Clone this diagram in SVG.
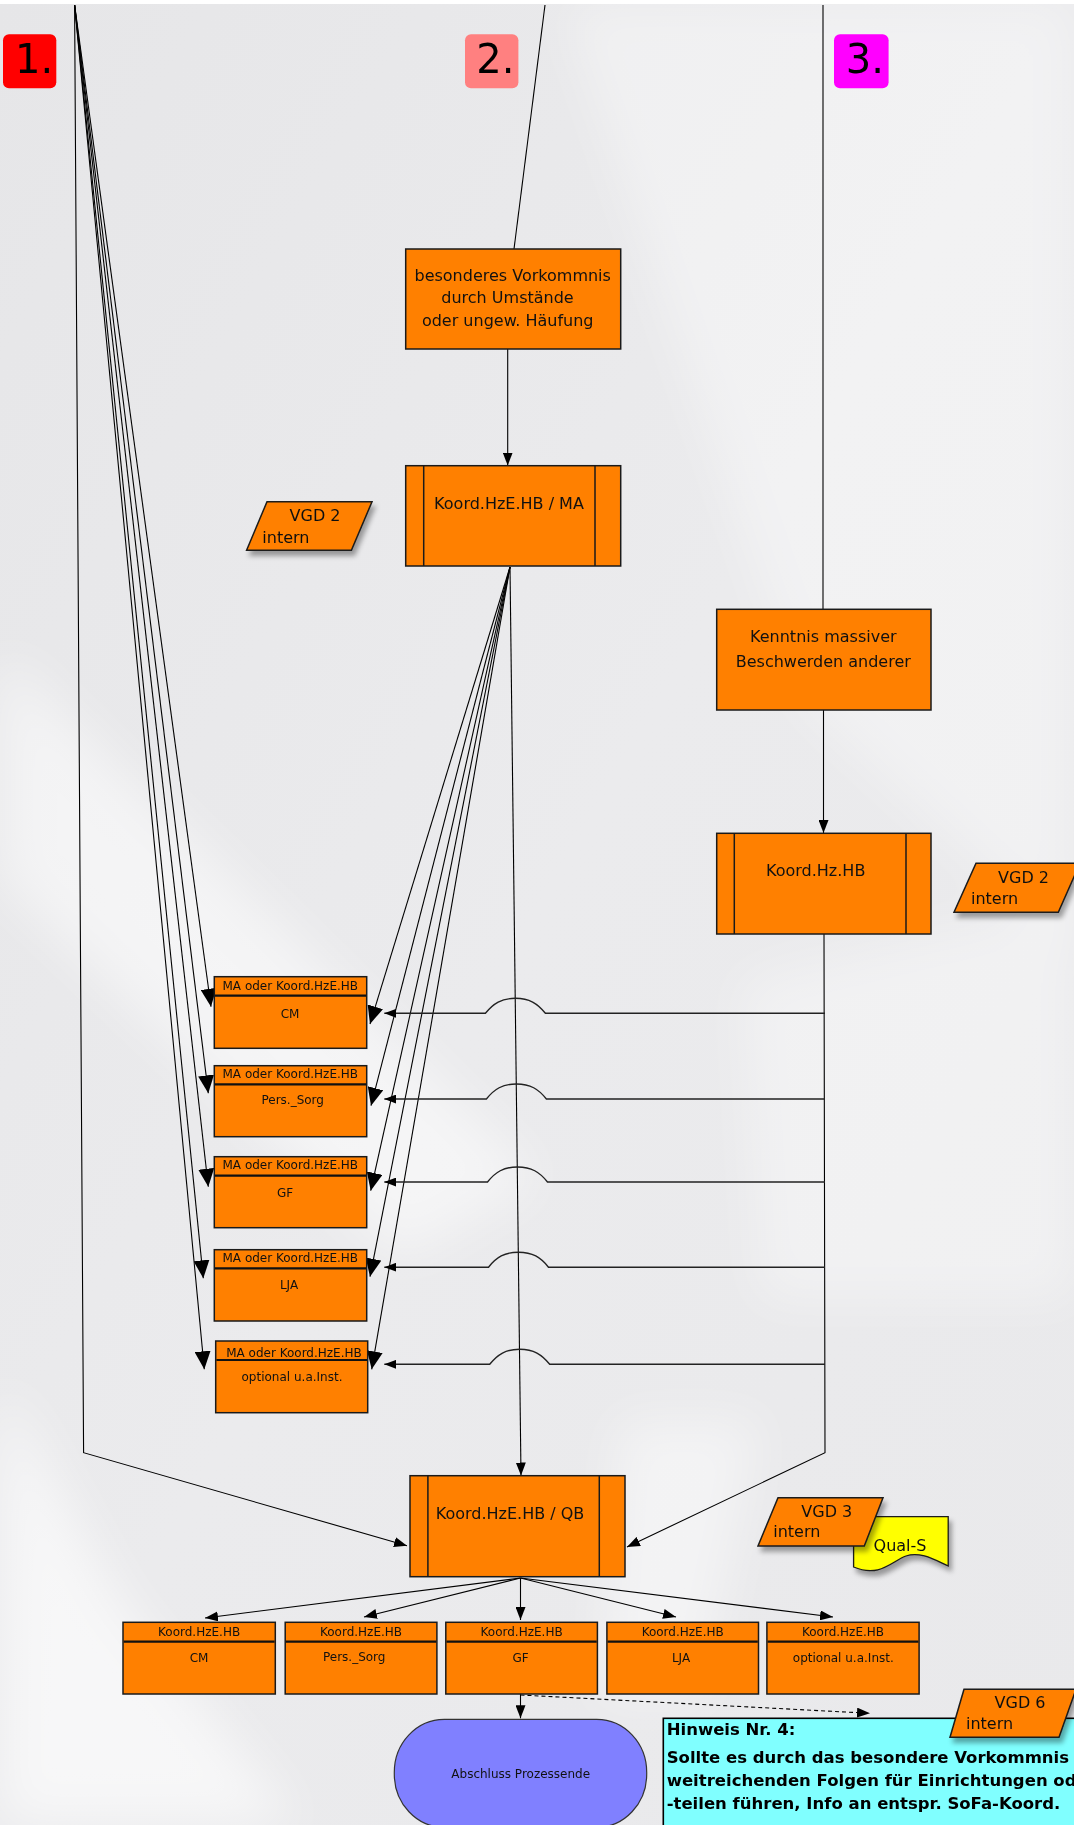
<svg xmlns="http://www.w3.org/2000/svg" width="1074" height="1825" viewBox="0 0 1074 1825">
<style>
.box{fill:#ff8000;stroke:#1a1a1a;stroke-width:1.5}
.inner{stroke:#1a1a1a;stroke-width:1.5;fill:none}
.hdr{stroke:#111;stroke-width:2.2;fill:none}
.t16{font-family:"DejaVu Sans",Verdana,sans-serif;font-size:16px;fill:#111}
.t12{font-family:"DejaVu Sans",Verdana,sans-serif;font-size:12px;fill:#111}
.num{font-family:"DejaVu Sans",Verdana,sans-serif;font-size:40px;fill:#000;text-anchor:middle}
.mid{text-anchor:middle}
.hint{font-family:"DejaVu Sans",Verdana,sans-serif;font-size:16.5px;font-weight:bold;fill:#000}
.ln{stroke:#000;stroke-width:1.1;fill:none}
.hl{stroke:#222;stroke-width:1.4;fill:none}
.vgd{fill:#ff8000;stroke:#1a1a1a;stroke-width:1.5}
</style>
<defs>
<linearGradient id="bg" x1="0" y1="0" x2="1" y2="1">
<stop offset="0" stop-color="#e6e6e8"/>
<stop offset="0.5" stop-color="#ebebed"/>
<stop offset="1" stop-color="#e9e9eb"/>
</linearGradient>
<filter id="blur" x="-20%" y="-20%" width="140%" height="140%"><feGaussianBlur stdDeviation="25"/></filter>
<filter id="sh" x="-20%" y="-20%" width="150%" height="160%"><feDropShadow dx="3" dy="5" stdDeviation="2.5" flood-color="#000" flood-opacity="0.35"/></filter>
<marker id="big" viewBox="0 0 18 16" refX="18" refY="8" markerWidth="18" markerHeight="16" markerUnits="userSpaceOnUse" orient="auto"><path d="M0,0 L18,8 L0,16 Z" fill="#000"/></marker>
<marker id="med" viewBox="0 0 13 10" refX="13" refY="5" markerWidth="13" markerHeight="10" markerUnits="userSpaceOnUse" orient="auto"><path d="M0,0 L13,5 L0,10 Z" fill="#000"/></marker>
<marker id="sm" viewBox="0 0 12 9" refX="12" refY="4.5" markerWidth="12" markerHeight="9" markerUnits="userSpaceOnUse" orient="auto"><path d="M0,0 L12,4.5 L0,9 Z" fill="#000"/></marker>
</defs>

<g id="background">
<rect width="1074" height="1825" fill="url(#bg)"/>
<g filter="url(#blur)" fill="#ffffff">
<polygon points="560,0 1074,0 1074,950 800,700" opacity="0.35"/>
<polygon points="0,650 0,880 400,1260 540,1180" opacity="0.5"/>
<polygon points="0,1380 0,1825 300,1825 120,1600" opacity="0.6"/>
<polygon points="620,1420 760,1420 700,1700 600,1700" opacity="0.45"/>
<polygon points="740,980 1074,900 1074,1300 760,1300" opacity="0.35"/>
</g>
<rect width="1074" height="4" fill="#ffffff"/>
</g>

<g id="num1"><rect x="3" y="34.3" width="53.3" height="54" rx="6" fill="#ff0000"/><text class="num" x="34.2" y="73.3">1.</text></g>
<g id="num2"><rect x="465" y="34.3" width="53.4" height="54" rx="6" fill="#ff8080"/><text class="num" x="495.4" y="73.3">2.</text></g>
<g id="num3"><rect x="834" y="34.3" width="54.6" height="54" rx="6" fill="#ff00ff"/><text class="num" x="864.8" y="73.3">3.</text></g>

<g id="connectors">
<path class="ln" d="M74.6,5 L211,1006.7" marker-end="url(#big)"/>
<path class="ln" d="M74.6,5 L208.3,1093.3" marker-end="url(#big)"/>
<path class="ln" d="M74.6,5 L208.3,1186.7" marker-end="url(#big)"/>
<path class="ln" d="M74.6,5 L203.3,1278.3" marker-end="url(#big)"/>
<path class="ln" d="M74.6,5 L204.3,1369.3" marker-end="url(#big)"/>
<path class="ln" d="M74.6,5 L83.6,1452.7 L407,1545.7" marker-end="url(#med)"/>
<path class="ln" d="M545,5 L514,249"/>
<path class="ln" d="M507.7,349 L507.7,465.5" marker-end="url(#med)"/>
<path class="ln" d="M510,567 L370,1024" marker-end="url(#big)"/>
<path class="ln" d="M510,567 L371,1105.7" marker-end="url(#big)"/>
<path class="ln" d="M510,567 L370.7,1190.7" marker-end="url(#big)"/>
<path class="ln" d="M510,567 L370,1276.7" marker-end="url(#big)"/>
<path class="ln" d="M510,567 L371.7,1369.3" marker-end="url(#big)"/>
<path class="ln" d="M510,567 L521,1475.5" marker-end="url(#med)"/>
<path class="ln" d="M823,5 L823,609.3"/>
<path class="ln" d="M823.5,710 L823.5,833" marker-end="url(#med)"/>
<path class="ln" d="M824,934 L825,1452.7 L627,1547" marker-end="url(#med)"/>
<path class="hl" d="M825,1013.3 H545.4 C537.4,1003.3 529.4,998.3 515.4,998.3 C501.4,998.3 493.4,1003.3 485.4,1013.3 H384.3" marker-end="url(#sm)"/>
<path class="hl" d="M825,1099 H546.4 C538.4,1089 530.4,1084 516.4,1084 C502.4,1084 494.4,1089 486.4,1099 H384.3" marker-end="url(#sm)"/>
<path class="hl" d="M825,1182 H547.5 C539.5,1172 531.5,1167 517.5,1167 C503.5,1167 495.5,1172 487.5,1182 H384.3" marker-end="url(#sm)"/>
<path class="hl" d="M825,1267.2 H548.5 C540.5,1257.2 532.5,1252.2 518.5,1252.2 C504.5,1252.2 496.5,1257.2 488.5,1267.2 H384.3" marker-end="url(#sm)"/>
<path class="hl" d="M825,1364.3 H549.7 C541.7,1354.3 533.7,1349.3 519.7,1349.3 C505.7,1349.3 497.7,1354.3 489.7,1364.3 H384.3" marker-end="url(#sm)"/>
<path class="ln" d="M520.5,1578 L205,1618" marker-end="url(#med)"/>
<path class="ln" d="M520.5,1578 L364,1617" marker-end="url(#med)"/>
<path class="ln" d="M520.5,1578 L520.5,1620" marker-end="url(#med)"/>
<path class="ln" d="M520.5,1578 L676,1617" marker-end="url(#med)"/>
<path class="ln" d="M520.5,1578 L833,1617" marker-end="url(#med)"/>
<path class="ln" d="M520.5,1694 L520.5,1718.3" marker-end="url(#med)"/>
<path class="ln" d="M520.5,1695 L870,1713.3" stroke-dasharray="4 3" marker-end="url(#med)"/>
</g>

<g id="besonderes">
<rect class="box" x="405.7" y="249" width="215" height="100"/>
<text class="t16 mid" x="512.7" y="280.6">besonderes Vorkommnis</text>
<text class="t16 mid" x="507.5" y="303">durch Umstände</text>
<text class="t16 mid" x="507.7" y="326.3">oder ungew. Häufung</text>
</g>

<g id="koordMA">
<rect class="box" x="405.7" y="465.7" width="215" height="100.3"/>
<line class="inner" x1="423.7" y1="465.7" x2="423.7" y2="566"/>
<line class="inner" x1="595" y1="465.7" x2="595" y2="566"/>
<text class="t16 mid" x="509" y="509">Koord.HzE.HB / MA</text>
</g>

<g id="vgd2left" filter="url(#sh)">
<polygon class="vgd" points="267,501.8 372,501.8 351.4,550.2 246.6,550.2"/>
<text class="t16 mid" x="315" y="521.4">VGD 2</text>
<text class="t16" x="262.3" y="542.6">intern</text>
</g>

<g id="kenntnis">
<rect class="box" x="716.7" y="609.3" width="214.3" height="100.7"/>
<text class="t16 mid" x="823.3" y="641.6">Kenntnis massiver</text>
<text class="t16 mid" x="823.3" y="666.6">Beschwerden anderer</text>
</g>

<g id="koordHz">
<rect class="box" x="716.7" y="833.3" width="214.3" height="100.7"/>
<line class="inner" x1="734.3" y1="833.3" x2="734.3" y2="934"/>
<line class="inner" x1="906" y1="833.3" x2="906" y2="934"/>
<text class="t16 mid" x="815.7" y="876.3">Koord.Hz.HB</text>
</g>

<g id="vgd2right" filter="url(#sh)">
<polygon class="vgd" points="976,863.3 1080,863.3 1058.3,912.3 954,912.3"/>
<text class="t16 mid" x="1023.5" y="883.3">VGD 2</text>
<text class="t16" x="971" y="904">intern</text>
</g>

<g id="ma1">
<rect class="box" x="214.3" y="976.7" width="152.4" height="71.6"/>
<line class="hdr" x1="215" y1="995.7" x2="366" y2="995.7"/>
<text class="t12 mid" x="290.3" y="990.2">MA oder Koord.HzE.HB</text>
<text class="t12 mid" x="290" y="1017.5">CM</text>
</g>
<g id="ma2">
<rect class="box" x="214.3" y="1065.7" width="152.4" height="71"/>
<line class="hdr" x1="215" y1="1084.3" x2="366" y2="1084.3"/>
<text class="t12 mid" x="290.3" y="1077.5">MA oder Koord.HzE.HB</text>
<text class="t12 mid" x="292.7" y="1104.2">Pers._Sorg</text>
</g>
<g id="ma3">
<rect class="box" x="214.3" y="1156.7" width="152.4" height="71"/>
<line class="hdr" x1="215" y1="1175.7" x2="366" y2="1175.7"/>
<text class="t12 mid" x="290.3" y="1168.5">MA oder Koord.HzE.HB</text>
<text class="t12 mid" x="285" y="1196.5">GF</text>
</g>
<g id="ma4">
<rect class="box" x="214.3" y="1249.7" width="152.4" height="71.3"/>
<line class="hdr" x1="215" y1="1268.3" x2="366" y2="1268.3"/>
<text class="t12 mid" x="290.3" y="1261.5">MA oder Koord.HzE.HB</text>
<text class="t12 mid" x="289" y="1288.9">LJA</text>
</g>
<g id="ma5">
<rect class="box" x="215.7" y="1341" width="152" height="71.7"/>
<line class="hdr" x1="216.4" y1="1360" x2="367" y2="1360"/>
<text class="t12 mid" x="294" y="1356.5">MA oder Koord.HzE.HB</text>
<text class="t12 mid" x="292" y="1380.9">optional u.a.Inst.</text>
</g>

<g id="koordQB">
<rect class="box" x="410" y="1475.7" width="215" height="101"/>
<line class="inner" x1="427.9" y1="1475.7" x2="427.9" y2="1576.7"/>
<line class="inner" x1="599.3" y1="1475.7" x2="599.3" y2="1576.7"/>
<text class="t16 mid" x="510" y="1519">Koord.HzE.HB / QB</text>
</g>

<g id="qualS" filter="url(#sh)">
<path d="M853.6,1516.7 H948.2 V1566 C935,1560 920,1551 906,1556 C892,1561 880,1578 853.6,1567 Z" fill="#ffff00" stroke="#1a1a1a" stroke-width="1.3"/>
<text class="t16 mid" x="900" y="1550.6">Qual-S</text>
</g>

<g id="vgd3" filter="url(#sh)">
<polygon class="vgd" points="778,1497.7 883,1497.7 864.3,1546 758,1546"/>
<text class="t16 mid" x="826.8" y="1517.3">VGD 3</text>
<text class="t16" x="773.2" y="1537.3">intern</text>
</g>

<g id="bCM">
<rect class="box" x="123" y="1622.3" width="152.3" height="71.7"/>
<line class="hdr" x1="123.7" y1="1641.7" x2="274.6" y2="1641.7"/>
<text class="t12 mid" x="199.1" y="1636">Koord.HzE.HB</text>
<text class="t12 mid" x="199.1" y="1662">CM</text>
</g>
<g id="bPers">
<rect class="box" x="285.2" y="1622.3" width="151.7" height="71.7"/>
<line class="hdr" x1="285.9" y1="1641.7" x2="436.2" y2="1641.7"/>
<text class="t12 mid" x="361" y="1636">Koord.HzE.HB</text>
<text class="t12 mid" x="354.2" y="1661">Pers._Sorg</text>
</g>
<g id="bGF">
<rect class="box" x="445.8" y="1622.3" width="151.6" height="71.7"/>
<line class="hdr" x1="446.5" y1="1641.7" x2="596.7" y2="1641.7"/>
<text class="t12 mid" x="521.6" y="1636">Koord.HzE.HB</text>
<text class="t12 mid" x="520.6" y="1662">GF</text>
</g>
<g id="bLJA">
<rect class="box" x="606.9" y="1622.3" width="151.6" height="71.7"/>
<line class="hdr" x1="607.6" y1="1641.7" x2="757.8" y2="1641.7"/>
<text class="t12 mid" x="682.7" y="1636">Koord.HzE.HB</text>
<text class="t12 mid" x="681" y="1662">LJA</text>
</g>
<g id="bOpt">
<rect class="box" x="766.9" y="1622.3" width="152.2" height="71.7"/>
<line class="hdr" x1="767.6" y1="1641.7" x2="918.4" y2="1641.7"/>
<text class="t12 mid" x="843" y="1636">Koord.HzE.HB</text>
<text class="t12 mid" x="843.3" y="1662">optional u.a.Inst.</text>
</g>

<g id="abschluss">
<rect x="394.3" y="1719.3" width="252.4" height="108" rx="50" ry="53" fill="#8080ff" stroke="#333" stroke-width="1.2"/>
<text class="t12 mid" x="520.7" y="1778">Abschluss Prozessende</text>
</g>

<g id="hinweis">
<rect x="663.3" y="1718.3" width="420" height="120" fill="#80ffff" stroke="#000" stroke-width="1.6"/>
<text class="hint" x="666.7" y="1735">Hinweis Nr. 4:</text>
<text class="hint" x="666.7" y="1763">Sollte es durch das besondere Vorkommnis</text>
<text class="hint" x="666.7" y="1786">weitreichenden Folgen für Einrichtungen od</text>
<text class="hint" x="666.7" y="1809">-teilen führen, Info an entspr. SoFa-Koord.</text>
</g>

<g id="vgd6" filter="url(#sh)">
<polygon class="vgd" points="964,1689.3 1076,1689.3 1059,1737.3 950,1737.3"/>
<text class="t16 mid" x="1020" y="1708.3">VGD 6</text>
<text class="t16" x="966" y="1729">intern</text>
</g>
</svg>
